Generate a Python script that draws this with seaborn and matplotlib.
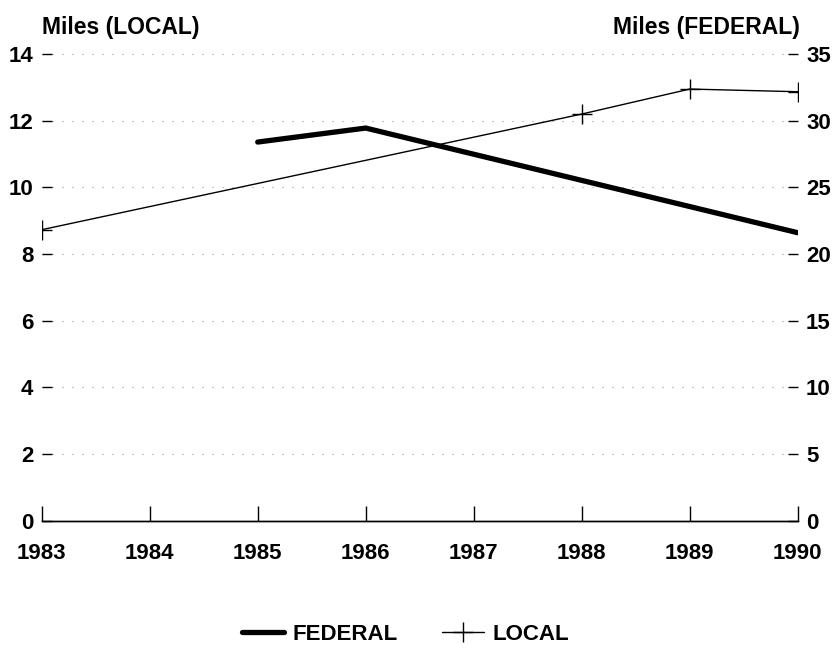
import seaborn as sns
import matplotlib.pyplot as plt
import pandas as pd

# data
local_years = [1983, 1988, 1989, 1990]
local_miles = [8.73, 12.2, 12.95, 12.87]
federal_years = [1985, 1986, 1990]
federal_miles = [28.4, 29.45, 21.6]
year_ticks = [1983, 1984, 1985, 1986, 1987, 1988, 1989, 1990]
left_ticks = [0, 2, 4, 6, 8, 10, 12, 14]
right_ticks = [0, 5, 10, 15, 20, 25, 30, 35]

sns.set_style("white")
plt.rcParams['font.family'] = ['Liberation Sans', 'DejaVu Sans']
plt.rcParams['font.weight'] = 'bold'
plt.rcParams['text.color'] = 'black'
plt.rcParams['xtick.color'] = 'black'
plt.rcParams['ytick.color'] = 'black'

df_local = pd.DataFrame({'year': local_years, 'miles': local_miles})
df_fed = pd.DataFrame({'year': federal_years, 'miles': federal_miles})

fig = plt.figure(figsize=(8.36, 6.49), dpi=100)
ax = fig.add_axes([0.0499, 0.1977, 0.9043, 0.719])
ax2 = ax.twinx()

sns.lineplot(data=df_local, x='year', y='miles', ax=ax, color='black', lw=1,
             marker='+', markersize=14, markeredgewidth=1, markeredgecolor='black',
             label='LOCAL', legend=False)
sns.lineplot(data=df_fed, x='year', y='miles', ax=ax2, color='black', lw=3.8,
             label='FEDERAL', legend=False)

ax.set_xlim(1983, 1990)
ax.set_ylim(0, 14)
ax2.set_ylim(0, 35)
ax.set_xticks(year_ticks)
ax.set_yticks(left_ticks)
ax2.set_yticks(right_ticks)
ax.set_xlabel('')
ax.set_ylabel('')
ax2.set_ylabel('')

ax.grid(axis='y', color='#999999', lw=0.8, linestyle=(0, (1, 8)))
for a in (ax, ax2):
    for s in ('top', 'left', 'right'):
        a.spines[s].set_visible(False)
    a.spines['bottom'].set_visible(True)
    a.spines['bottom'].set_color('black')
    a.spines['bottom'].set_linewidth(1)

ax.tick_params(axis='x', direction='in', length=11, width=1, labelsize=16, pad=16, bottom=True)
ax.tick_params(axis='y', direction='in', length=7, width=1, labelsize=16, pad=6, left=True)
ax2.tick_params(axis='y', direction='in', length=7, width=1, labelsize=16, pad=6, right=True)

fig.text(0.050, 0.958, 'Miles (LOCAL)', ha='left', va='center', fontsize=16.5, fontweight='bold')
fig.text(0.957, 0.958, 'Miles (FEDERAL)', ha='right', va='center', fontsize=16.5, fontweight='bold')

handles = [ax2.get_lines()[0], ax.get_lines()[0]]
fig.legend(handles, ['FEDERAL', 'LOCAL'], loc='center', bbox_to_anchor=(0.485, 0.022),
           ncol=2, frameon=False, fontsize=16, handlelength=1.9, columnspacing=2.0,
           handletextpad=0.36, borderpad=0)

fig.savefig('out.png', dpi=100)
